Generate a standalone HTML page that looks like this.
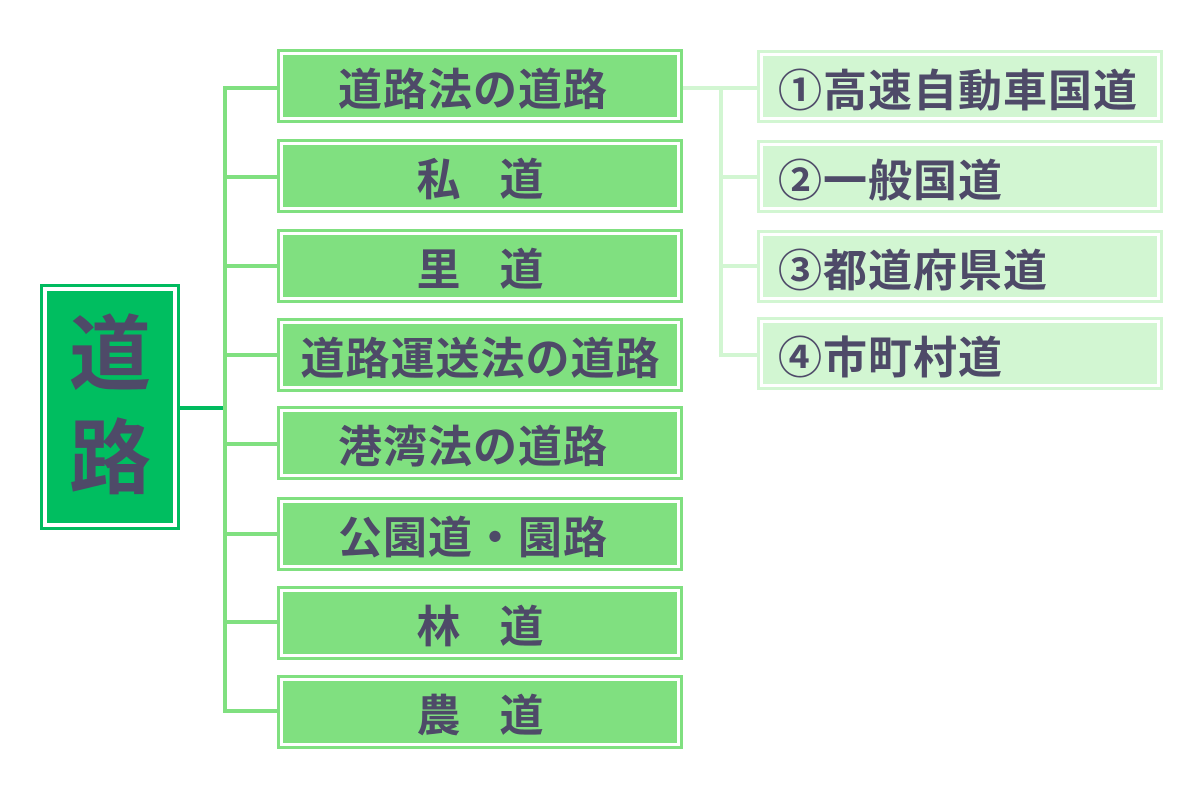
<!DOCTYPE html>
<html>
<head>
<meta charset="utf-8">
<style>
  html, body { margin:0; padding:0; background:#fff; }
  body { width:1200px; height:800px; position:relative; overflow:hidden;
         font-family:"Liberation Sans","Noto Sans CJK JP",sans-serif; }
  .ln { position:absolute; }
  .g { background:#80e080; }
  .lg { background:#d2f6d2; }
  .box { position:absolute; box-sizing:border-box; }
  .L { left:277px; width:406px; height:74px; border:3px solid #80e080; background:#80e080;
       box-shadow: inset 0 0 0 3px #fff; }
  .R { left:757px; width:406px; height:73px; border:3px solid #d2f6d2; background:#d2f6d2;
       box-shadow: inset 0 0 0 3px #fff; }
  .t { position:absolute; left:0; right:0; top:0; bottom:0; display:flex; align-items:center;
       font-weight:700; font-size:44px; letter-spacing:1px; color:#4e4a68; white-space:nowrap; }
  .L .t { justify-content:center; padding-left:1px; }
  .L .t.sh { padding-left:0; padding-right:14px; }
  .R .t { justify-content:flex-start; padding-left:18px; }
  .sp { display:inline-block; width:38px; }
  .main { left:40px; top:284px; width:140px; height:246px; border:3px solid #00bb5f; background:#00be60;
          box-shadow: inset 0 0 0 4px #fff; }
  .mt { position:absolute; left:0; width:134px; text-align:center; font-weight:700; font-size:82px;
        line-height:100px; color:#4e4a68; }
</style>
</head>
<body>
  <!-- main connector -->
  <div class="ln" style="left:180px; top:406px; width:45px; height:4px; background:#00bb5f;"></div>
  <!-- left vertical -->
  <div class="ln g" style="left:223px; top:86px; width:4px; height:627px;"></div>
  <!-- left horizontals -->
  <div class="ln g" style="left:223px; top:86px; width:55px; height:4px;"></div>
  <div class="ln g" style="left:223px; top:175px; width:55px; height:4px;"></div>
  <div class="ln g" style="left:223px; top:264px; width:55px; height:4px;"></div>
  <div class="ln g" style="left:223px; top:353px; width:55px; height:4px;"></div>
  <div class="ln g" style="left:223px; top:442px; width:55px; height:4px;"></div>
  <div class="ln g" style="left:223px; top:532px; width:55px; height:4px;"></div>
  <div class="ln g" style="left:223px; top:620px; width:55px; height:4px;"></div>
  <div class="ln g" style="left:223px; top:709px; width:55px; height:4px;"></div>

  <!-- right connectors -->
  <div class="ln lg" style="left:683px; top:86px; width:75px; height:4px;"></div>
  <div class="ln lg" style="left:719px; top:86px; width:4px; height:271px;"></div>
  <div class="ln lg" style="left:719px; top:175px; width:39px; height:4px;"></div>
  <div class="ln lg" style="left:719px; top:264px; width:39px; height:4px;"></div>
  <div class="ln lg" style="left:719px; top:353px; width:39px; height:4px;"></div>

  <!-- main box -->
  <div class="box main">
    <div class="mt" style="top:19px;">道</div>
    <div class="mt" style="top:123px;">路</div>
  </div>

  <!-- left boxes -->
  <div class="box L" style="top:49px;"><div class="t sh">道路法の道路</div></div>
  <div class="box L" style="top:139px;"><div class="t">私<span class="sp"></span>道</div></div>
  <div class="box L" style="top:229px;"><div class="t">里<span class="sp"></span>道</div></div>
  <div class="box L" style="top:318px;"><div class="t">道路運送法の道路</div></div>
  <div class="box L" style="top:406px;"><div class="t sh">港湾法の道路</div></div>
  <div class="box L" style="top:497px;"><div class="t sh">公園道・園路</div></div>
  <div class="box L" style="top:586px;"><div class="t">林<span class="sp"></span>道</div></div>
  <div class="box L" style="top:675px;"><div class="t">農<span class="sp"></span>道</div></div>

  <!-- right boxes -->
  <div class="box R" style="top:50px;"><div class="t">①高速自動車国道</div></div>
  <div class="box R" style="top:140px;"><div class="t">②一般国道</div></div>
  <div class="box R" style="top:230px;"><div class="t">③都道府県道</div></div>
  <div class="box R" style="top:317px;"><div class="t">④市町村道</div></div>
</body>
</html>
